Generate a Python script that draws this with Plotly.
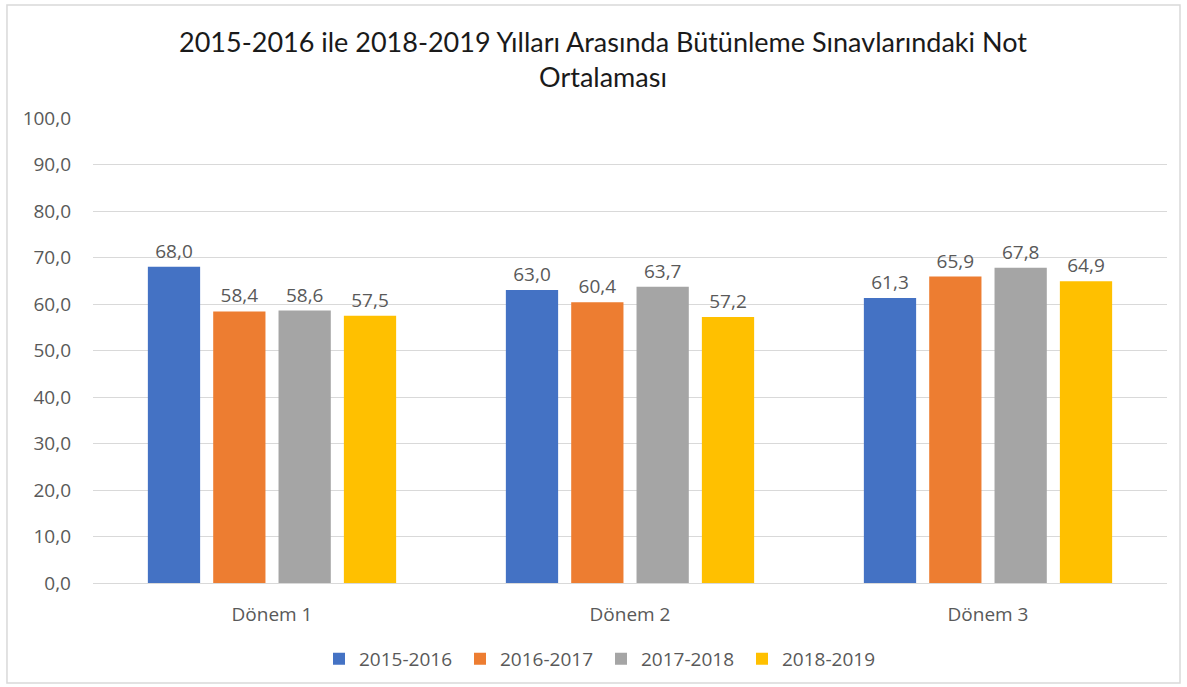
import plotly.graph_objects as go

# Exam period categories and yearly make-up exam averages
categories = ["Dönem 1", "Dönem 2", "Dönem 3"]
years = ["2015-2016", "2016-2017", "2017-2018", "2018-2019"]
avg_2015_2016 = [68.0, 63.0, 61.3]
avg_2016_2017 = [58.4, 60.4, 65.9]
avg_2017_2018 = [58.6, 63.7, 67.8]
avg_2018_2019 = [57.5, 57.2, 64.9]
y_ticks = [0, 10, 20, 30, 40, 50, 60, 70, 80, 90, 100]

series = [avg_2015_2016, avg_2016_2017, avg_2017_2018, avg_2018_2019]
colors = ["#4472C4", "#ED7D31", "#A5A5A5", "#FFC000"]

label_font = dict(family="Open Sans, DejaVu Sans, sans-serif", size=19, color="#595959")

fig = go.Figure()
for name, vals, col in zip(years, series, colors):
    fig.add_trace(go.Bar(
        x=categories, y=vals, name=name,
        marker=dict(color=col, line=dict(width=0)),
        texttemplate="%{y:.1f}", textposition="outside",
        textfont=label_font, cliponaxis=False,
    ))

fig.update_layout(
    width=1187, height=687,
    margin=dict(l=93, r=20, t=118, b=104, autoexpand=False),
    paper_bgcolor="white", plot_bgcolor="white",
    separators=",.",
    barmode="group", bargap=0.27, bargroupgap=0.2,
    title=dict(
        text="2015-2016 ile 2018-2019 Yılları Arasında Bütünleme Sınavlarındaki Not<br>Ortalaması",
        x=0.508, xanchor="center", y=0.925, yanchor="top",
        font=dict(family="Lato, Open Sans, sans-serif", size=27, color="#1a1a1a"),
    ),
    legend=dict(
        orientation="h", x=0.473, xanchor="center", y=-0.163, yanchor="middle",
        font=label_font, itemwidth=30, traceorder="normal",
        entrywidth=96, entrywidthmode="pixels",
    ),
    showlegend=True,
    shapes=[dict(
        type="rect", xref="paper", yref="paper",
        x0=-0.0801, x1=1.0121, y0=-0.215, y1=1.243,
        line=dict(color="#d9d9d9", width=1.5), layer="below",
    )],
)
fig.update_yaxes(
    range=[0, 100], tickvals=y_ticks, tickformat=".1f",
    showgrid=True, gridcolor="#d9d9d9", gridwidth=1,
    zeroline=False, showline=False,
    tickfont=label_font, ticklabelstandoff=21,
)
fig.update_xaxes(
    showline=True, linecolor="#d9d9d9", linewidth=1,
    tickfont=label_font, ticks="", ticklabelstandoff=14,
)

fig.write_html("out.html")
